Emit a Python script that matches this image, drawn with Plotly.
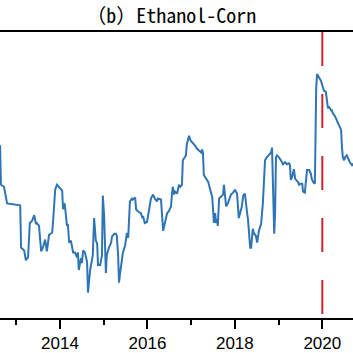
import plotly.graph_objects as go

# Decimal years and series values (arbitrary units)
years = [2012.56, 2012.63, 2012.65, 2012.72, 2012.79, 2013.09, 2013.11, 2013.18, 2013.22, 2013.27,
         2013.31, 2013.36, 2013.41, 2013.45, 2013.47, 2013.52, 2013.57, 2013.61, 2013.66, 2013.70,
         2013.75, 2013.82, 2013.84, 2013.89, 2013.93, 2013.98, 2014.00, 2014.05, 2014.07, 2014.09,
         2014.11, 2014.16, 2014.18, 2014.21, 2014.25, 2014.30, 2014.34, 2014.39, 2014.41, 2014.43,
         2014.48, 2014.50, 2014.53, 2014.57, 2014.62, 2014.64, 2014.69, 2014.73, 2014.75, 2014.78,
         2014.82, 2014.85, 2014.87, 2014.92, 2014.96, 2014.98, 2015.01, 2015.05, 2015.07, 2015.12,
         2015.17, 2015.19, 2015.24, 2015.28, 2015.30, 2015.33, 2015.35, 2015.37, 2015.42, 2015.44,
         2015.49, 2015.53, 2015.56, 2015.58, 2015.60, 2015.65, 2015.67, 2015.72, 2015.74, 2015.78,
         2015.85, 2015.88, 2015.90, 2015.94, 2015.99, 2016.04, 2016.08, 2016.13, 2016.17, 2016.22,
         2016.24, 2016.31, 2016.33, 2016.36, 2016.40, 2016.45, 2016.49, 2016.54, 2016.56, 2016.58,
         2016.61, 2016.63, 2016.68, 2016.72, 2016.75, 2016.79, 2016.81, 2016.86, 2016.88, 2016.90,
         2016.95, 2016.99, 2017.04, 2017.09, 2017.13, 2017.18, 2017.23, 2017.25, 2017.27, 2017.29,
         2017.34, 2017.39, 2017.43, 2017.48, 2017.50, 2017.52, 2017.55, 2017.57, 2017.59, 2017.61,
         2017.64, 2017.68, 2017.73, 2017.75, 2017.80, 2017.84, 2017.91, 2017.96, 2018.00, 2018.05,
         2018.07, 2018.09, 2018.12, 2018.16, 2018.19, 2018.23, 2018.28, 2018.30, 2018.35, 2018.37,
         2018.41, 2018.44, 2018.48, 2018.51, 2018.55, 2018.60, 2018.64, 2018.67, 2018.69, 2018.73,
         2018.78, 2018.83, 2018.85, 2018.87, 2018.90, 2018.92, 2018.94, 2018.96, 2019.01, 2019.08,
         2019.10, 2019.15, 2019.19, 2019.24, 2019.26, 2019.28, 2019.31, 2019.35, 2019.38, 2019.42,
         2019.44, 2019.47, 2019.49, 2019.54, 2019.56, 2019.60, 2019.63, 2019.65, 2019.70, 2019.74,
         2019.76, 2019.79, 2019.83, 2019.84, 2019.86, 2019.88, 2019.92, 2019.97, 2019.99, 2020.04,
         2020.08, 2020.11, 2020.13, 2020.15, 2020.20, 2020.22, 2020.24, 2020.29, 2020.34, 2020.38,
         2020.43, 2020.45, 2020.47, 2020.50, 2020.52, 2020.56, 2020.59, 2020.63, 2020.68, 2020.70,
         2020.77]

values = [1.74, 1.76, 1.36, 1.34, 1.17, 1.15, 0.72, 0.69, 0.59, 0.62,
          0.97, 0.99, 1.05, 0.96, 0.97, 0.94, 0.68, 0.72, 0.80, 0.68,
          0.85, 0.87, 0.97, 1.31, 1.36, 1.33, 1.32, 1.30, 1.11, 1.17,
          1.16, 0.94, 0.96, 0.77, 0.79, 0.67, 0.67, 0.62, 0.67, 0.49,
          0.61, 0.56, 0.69, 0.67, 0.57, 0.26, 0.49, 0.61, 0.64, 1.02,
          0.79, 0.76, 0.54, 0.54, 0.64, 1.25, 1.04, 0.46, 0.64, 0.72,
          0.77, 0.83, 0.86, 0.86, 0.84, 0.64, 0.36, 0.44, 0.61, 0.67,
          0.74, 0.87, 0.82, 1.07, 1.19, 1.22, 1.21, 1.23, 1.11, 1.09,
          1.07, 1.03, 1.04, 0.97, 0.98, 1.11, 1.22, 1.26, 1.22, 1.19,
          1.22, 1.21, 1.04, 0.89, 0.97, 1.07, 1.09, 1.14, 1.26, 1.34,
          1.26, 1.29, 1.27, 1.36, 1.34, 1.36, 1.61, 1.64, 1.66, 1.77,
          1.86, 1.81, 1.79, 1.76, 1.73, 1.71, 1.69, 1.72, 1.69, 1.46,
          1.42, 1.39, 1.32, 1.24, 1.12, 0.97, 1.07, 0.97, 1.01, 0.94,
          1.22, 1.24, 1.26, 1.36, 1.14, 1.17, 1.26, 1.28, 1.31, 1.27,
          1.14, 1.02, 1.07, 1.14, 1.25, 1.27, 1.07, 1.01, 0.72, 0.71,
          0.91, 0.86, 0.84, 0.77, 0.89, 0.96, 1.17, 1.44, 1.61, 1.64,
          1.67, 1.69, 1.74, 1.24, 0.86, 1.07, 1.64, 1.66, 1.64, 1.59,
          1.57, 1.59, 1.57, 1.58, 1.56, 1.41, 1.44, 1.52, 1.42, 1.40,
          1.39, 1.36, 1.37, 1.37, 1.29, 1.28, 1.41, 1.51, 1.51, 1.47,
          1.42, 1.39, 1.37, 1.81, 2.34, 2.49, 2.46, 2.42, 2.39, 2.32,
          2.31, 2.21, 2.14, 2.16, 2.12, 2.12, 2.09, 2.06, 2.01, 1.97,
          1.92, 1.74, 1.64, 1.61, 1.64, 1.66, 1.62, 1.59, 1.56, 1.57,
          1.54]

x_range = [2012.628, 2020.702]
y_range = [0.0, 2.92]
event_year = 2020
major_ticks = [2014, 2016, 2018, 2020]
title_text = "（b）Ethanol-Corn"

fig = go.Figure()
fig.add_trace(go.Scatter(
    x=years, y=values, mode="lines",
    line=dict(color="#2f74b5", width=2),
    showlegend=False, hoverinfo="skip",
))

fig.add_shape(
    type="line", xref="x", yref="paper",
    x0=event_year, x1=event_year, y0=1, y1=0,
    line=dict(color="#c8282d", width=2, dash="34px,28px"),
)

fig.update_layout(
    width=353, height=353,
    margin=dict(l=0, r=0, t=32, b=29),
    paper_bgcolor="white", plot_bgcolor="white",
    title=dict(
        text=title_text, x=0.485, xanchor="center", y=0.955, yanchor="middle",
        font=dict(family="Noto Sans Mono CJK SC, Noto Sans CJK SC, DejaVu Sans Mono, monospace",
                  size=20, color="black"),
    ),
    xaxis=dict(
        range=x_range, showgrid=False, zeroline=False,
        showline=True, mirror=True, linecolor="black", linewidth=2,
        tickmode="array", tickvals=major_ticks,
        ticks="outside", ticklen=9, tickwidth=1.5, tickcolor="black",
        minor=dict(dtick=1, tick0=2013, ticks="outside", ticklen=5, tickwidth=1.5,
                   tickcolor="black", showgrid=False),
        tickfont=dict(family="Liberation Sans, Arial, sans-serif", size=17, color="black"),
    ),
    yaxis=dict(range=y_range, visible=False, showgrid=False, zeroline=False),
)

fig.write_html("out.html")
